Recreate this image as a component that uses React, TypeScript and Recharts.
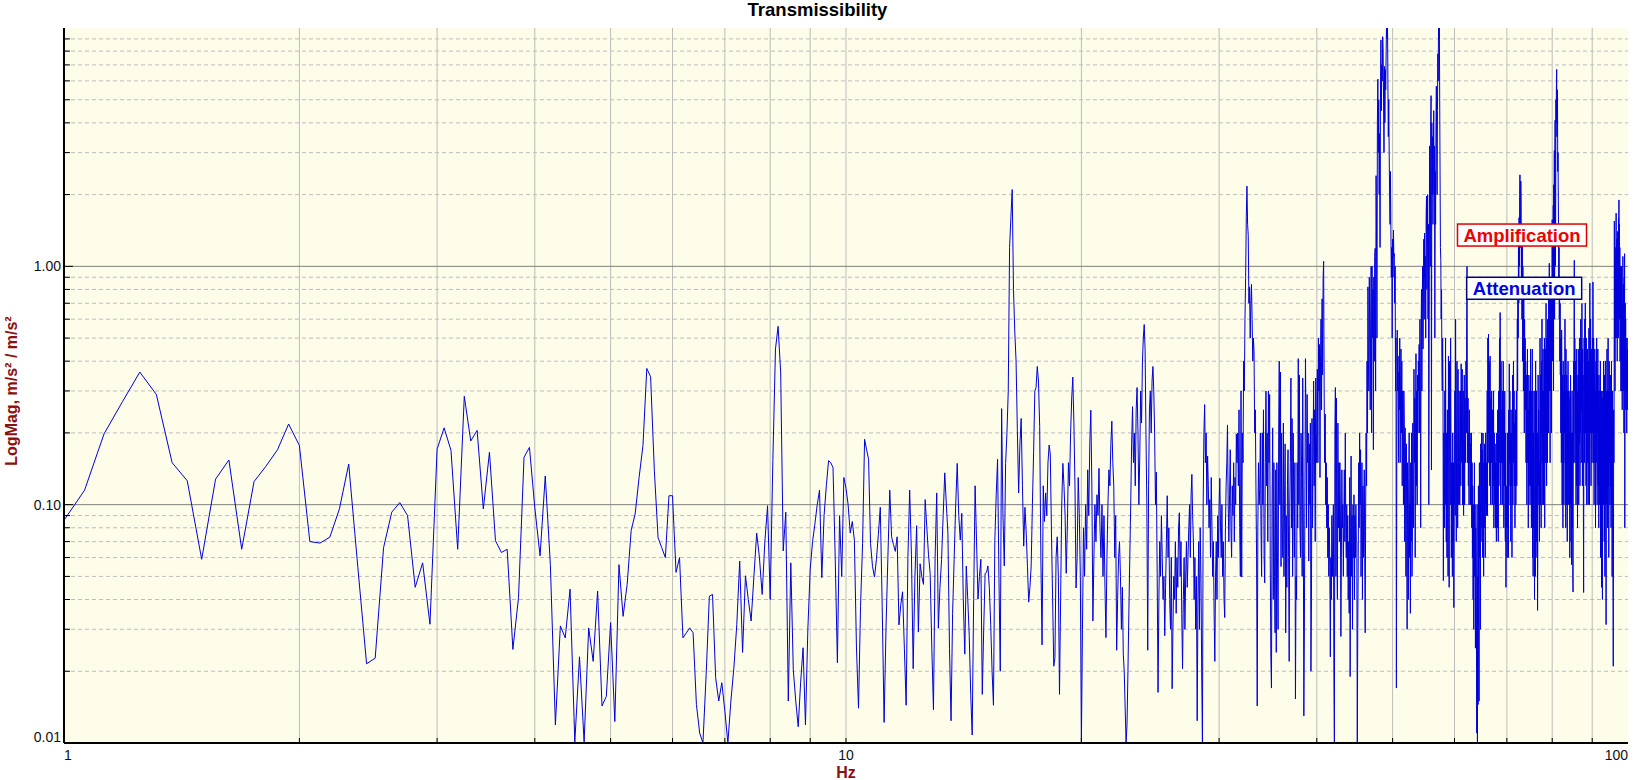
import React from 'react';
import { LineChart, Line, XAxis, YAxis, ReferenceLine, ReferenceArea, ReferenceDot } from 'recharts';

// ---- data: transmissibility magnitude, one bin every 0.0625 Hz starting at 1 Hz ----
const START_HZ = 1;
const BIN_HZ = 0.0625;

const MAG_01_09 = [
  .086,.115,.198,.27,.36,.29,.15,.126,.059,.128,.154,.065,.125,.145,.17,.218,
  .177,.07,.069,.073,.096,.148,.055,.0215,.0227,.066,.093,.102,.09,.045,.057,.0315,
  .171,.21,.169,.065,.285,.185,.205,.096,.166,.0706,.063,.065,.0247,.0407,.158,.174,
  .097,.061,.132,.056,.0119,.031,.0276,.0442,.0101,.023,.0101,.0304,.022,.0434,.0143,.0157,
  .032,.0123,.056,.034,.0463,.078,.0914,.13,.177,.373,.344,.139,.0728,.066,.06,.109,
  .109,.052,.06,.0276,.029,.0304,.029,.0145,.011,.01,.0194,.0413,.042,.0188,.015,.0179,
  .0136,.01,.015,.0206,.0314,.058,.024,.0503,.04,.0325,.05,.076,.06,.042,.07,.099,
  .04,.153,.45,.56,.36,.064,.093,.015,.057,.0203,.015,.0117,.018,.0251,.0119,.03,
  .0536,.07,.083,.1,.115,.0494,.09,.12,.153,.15,.143,.06,.0217,.09,.05,.13,
];

const MAG_10_19 = [
  .117,.1,.076,.085,.071,.0253,.014,.0374,.0686,.188,.17,.155,.0686,.055,.0497,.059,
  .075,.0975,.0374,.0122,.0304,.06,.115,.0733,.068,.0637,.0733,.0313,.038,.0431,.025,.0144,
  .06,.115,.0616,.0205,.05,.0816,.0292,.0565,.05,.0463,.105,.08,.0616,.0515,.025,.0138,
  .06,.112,.0303,.045,.059,.09,.136,.1,.076,.025,.0124,.035,.059,.1,.149,.09,
  .071,.092,.04,.0236,.0553,.04,.0282,.016,.0108,.04,.12,.07,.0402,.05,.059,.016,
  .03,.0515,.052,.0553,.045,.0313,.02,.0144,.071,.11,.155,.05,.02,.253,.09,.0553,
  .149,.2,.3,1.2,1.6,2.1,.8,.53,.4,.205,.112,.18,.23,.12,.067,.0975,
  .076,.055,.039,.045,.0553,.1,.166,.3,.31,.38,.33,.213,.06,.0258,.12,.085,
  .112,.09,.15,.178,.163,.076,.04,.021,.0228,.06,.0733,.05,.016,.04,.1,.149,
  .12,.09,.0515,.08,.15,.12,.2,.28,.343,.22,.12,.0447,.06,.13,.092,.05,
];

const MAG_20_29 = [
  .01,.03,.08,.05,.1,.065,.14,.09,.18,.249,.12,.0325,.06,.1,.07,.11,
  .09,.142,.08,.06,.1,.05,.09,.045,.0277,.06,.1,.14,.12,.18,.224,.15,
  .12,.06,.09,.0245,.04,.06,.07,.05,.03,.045,.0236,.02,.014,.01,.012,.02,
  .0355,.06,.1,.18,.258,.15,.2,.12,.25,.31,.2,.1,.16,.3,.22,.4,
  .5,.57,.45,.2,.1,.0245,.12,.25,.3,.2,.33,.38,.3,.2,.1,.137,
  .05,.0163,.04,.07,.05,.09,.06,.04,.05,.0282,.045,.07,.109,.06,.08,.04,
  .03,.06,.0169,.03,.05,.04,.07,.035,.06,.045,.08,.0925,.05,.07,.035,.0205,
  .04,.06,.03,.05,.07,.045,.06,.08,.1,.06,.11,.134,.09,.07,.04,.06,
  .03,.05,.0124,.04,.07,.03,.08,.05,.02,.01,.1,.2,.263,.15,.2,.1,
  .16,.12,.08,.105,.06,.13,.08,.05,.07,.035,.022,.05,.07,.04,.09,.06,
];

const MAG_30_39 = [
  .1,.129,.08,.06,.1,.05,.07,.04,.0336,.08,.12,.15,.216,.1,.07,.11,
  .17,.08,.06,.12,.09,.15,.07,.13,.1,.198,.15,.2,.12,.25,.08,.05,
  .3,.0497,.2,.15,.4,.3,.6,.9,1.6,2.17,1.5,1.35,.7,.82,.5,.7,
  .84,.6,.4,.5,.44,.2,.25,.12,.06,.0143,.08,.15,.1,.117,.2,.08,
  .05,.2,.1,.25,.06,.047,.15,.3,.12,.2,.07,.3,.15,.29,.06,.023,
  .017,.1,.21,.04,.15,.05,.029,.14,.024,.15,.06,.03,.2,.4,.1,.36,
  .055,.2,.08,.06,.22,.05,.1,.18,.029,.09,.045,.12,.17,.06,.022,.1,
  .15,.34,.08,.23,.05,.2,.1,.06,.15,.0153,.05,.04,.15,.08,.41,.1,
  .35,.08,.06,.2,.13,.05,.34,.1,.013,.03,.12,.41,.2,.08,.29,.15,
  .2,.058,.18,.1,.22,.02,.04,.23,.08,.15,.33,.12,.25,.07,.34,.15,
];

const MAG_40_49 = [
  .2,.37,.15,.5,.3,.47,.13,.4,.6,.25,.73,.35,.9,1.05,.3,.15,
  .24,.1,.15,.08,.13,.06,.1,.05,.08,.055,.023,.06,.04,.09,.05,.07,
  .1,.02,.01,.2,.31,.05,.28,.06,.04,.22,.08,.15,.07,.15,.1,.028,
  .06,.14,.08,.1,.05,.09,.14,.07,.2,.08,.06,.1,.05,.09,.04,.07,
  .035,.13,.019,.08,.16,.05,.09,.03,.1,.06,.11,.04,.09,.06,.1,.07,
  .07,.01,.03,.06,.15,.08,.2,.1,.17,.05,.08,.15,.04,.12,.06,.1,
  .14,.06,.029,.1,.2,.12,.4,.2,.82,.4,.3,.9,.5,.25,.6,1.0,
  .2,1.0,.5,.8,.17,.9,.4,1.1,1.19,.3,2.4,1.5,.5,4.0,6.1,3.0,
  5.0,2.0,3.6,1.2,5.5,8.9,4.5,7.0,6.0,9.2,8.0,5.0,3.0,6.9,4.0,6.7,
  5.5,8.0,11,9.0,11,6.0,3.5,5.0,3.0,2.0,1.5,2.5,1.43,.9,1.2,.5,
];

const MAG_50_59 = [
  1.3,.9,1.42,1.1,1.13,.7,1.0,.3,.5,.017,.2,.54,.3,.42,.15,.36,
  .25,.5,.15,.3,.45,.2,.4,.12,.3,.25,.1,.3,.22,.07,.21,.15,
  .05,.18,.1,.03,.15,.08,.04,.13,.2,.06,.1,.035,.15,.07,.2,.05,
  .07,.22,.1,.08,.37,.15,.28,.06,.2,.43,.12,.3,.1,.35,.2,.4,
  .3,.47,.2,.6,.35,.08,.5,.8,.3,.7,1.0,.45,.82,1.3,.6,1.38,
  .9,1.1,.5,1.6,1.97,.8,1.2,2.0,.6,1.5,.1,.5,3.2,2.0,1.0,4.0,
  5.2,.14,4.0,2.0,3.5,1.5,2.8,4.5,2.0,3.2,.5,2.5,1.5,4.0,5.7,3.0,
  2.0,4.5,7.8,6.0,11,9.0,11,5.0,2.5,1.2,1.06,.6,.8,.4,.3,.5,
  .3,.048,.2,.15,.08,.3,.1,.5,.12,.07,.2,.06,.25,.1,.05,.42,
  .15,.045,.4,.2,.1,.5,.2,.06,.15,.1,.05,.2,.07,.15,.037,.1,
];

const MAG_60_69 = [
  .1,.3,.09,.6,.25,.07,.2,.4,.15,.08,.37,.2,.1,.3,.15,.1,
  .15,.3,.12,.39,.2,.15,.37,.1,.25,.3,.09,.2,.35,.1,.28,.2,
  .15,.4,.2,.6,1.0,.3,.15,.28,.12,.2,.1,.25,.15,.2,.1,.18,
  .1,.2,.08,.15,.06,.12,.04,.1,.03,.07,.15,.05,.1,.025,.08,.06,
  .03,.011,.1,.01,.05,.0145,.12,.04,.015,.15,.06,.1,.03,.18,.07,.12,
  .2,.08,.17,.06,.2,.1,.05,.15,.08,.18,.12,.06,.2,.1,.15,.09,
  .15,.3,.09,.5,.2,.52,.15,.4,.3,.12,.42,.2,.1,.28,.15,.3,
  .2,.1,.25,.12,.15,.3,.08,.2,.12,.1,.18,.08,.15,.1,.07,.2,
  .12,.08,.25,.15,.07,.3,.12,.2,.5,.15,.64,.3,.1,.4,.2,.15,
  .25,.1,.3,.15,.4,.2,.08,.25,.12,.3,.1,.07,.2,.045,.12,.08,
];

const MAG_70_79 = [
  .1,.06,.2,.08,.15,.06,.25,.12,.39,.15,.3,.1,.2,.07,.25,.12,
  .2,.06,.15,.35,.1,.25,.4,.15,.3,.12,.22,.08,.18,.25,.1,.15,
  .3,.12,.28,.6,.3,.8,.5,1.3,.7,1.6,1.0,2.0,2.42,1.67,1.2,2.28,
  1.8,.8,1.2,.6,1.4,.4,1.0,.7,.3,.9,.5,.2,.6,.3,.5,.25,
  .4,.15,.35,.2,.1,.3,.45,.15,.25,.08,.2,.35,.12,.18,.3,.1,
  .15,.45,.12,.2,.08,.3,.1,.45,.06,.15,.05,.2,.08,.3,.1,.04,
  .1,.3,.05,.4,.15,.07,.3,.12,.06,.2,.036,.08,.35,.12,.25,.1,
  .15,.07,.25,.5,.1,.35,.2,.08,.4,.2,.6,.15,.3,.1,.45,.2,
  .1,.3,.15,.5,.08,.25,.15,.45,.2,.7,.3,.12,.5,.25,.15,.6,
  .3,.5,.2,.8,.4,1.03,.3,.6,.15,.5,.8,.3,.6,.2,.9,.5,
];

const MAG_80_89 = [
  1.57,.4,1.2,.5,1.8,.3,2.2,1.3,3.06,.6,2.5,4.1,1.0,1.5,5.0,4.0,
  6.0,6.7,3.5,4.1,5.5,2.5,3.0,2.09,1.5,.9,1.2,.6,.9,.4,.7,.35,
  .5,.2,.4,.15,.54,.3,.1,.35,.2,.08,.4,.15,.3,.1,.25,.35,
  .2,.6,.15,.3,.08,.45,.2,.1,.35,.25,.07,.3,.15,.4,.1,.3,
  .15,.3,.1,.2,.06,.28,.1,.35,.15,.07,.2,.056,.15,.3,.08,.2,
  .05,.043,.2,.4,.15,.6,1.06,.3,.5,.15,.4,.2,.3,.1,.45,.25,
  .12,.35,.2,.08,.3,.15,.45,.2,.1,.35,.18,.5,.25,.12,.4,.2,
  .6,.3,.15,.5,.25,.7,.3,.12,.45,.2,.35,.1,.0428,.2,.5,.3,
  .15,.6,.3,.7,.2,.4,.12,.5,.25,.1,.35,.2,.45,.15,.3,.1,
  .4,.2,.55,.25,.1,.3,.85,.4,.2,.6,.3,.12,.45,.2,.35,.15,
];

const MAG_90_100 = [
  .3,.5,.2,.86,.4,.15,.5,.25,.1,.35,.2,.45,.15,.3,.08,.25,
  .4,.15,.3,.5,.2,.1,.35,.2,.45,.12,.3,.2,.08,.35,.15,.25,
  .1,.3,.15,.4,.06,.25,.12,.3,.045,.2,.1,.28,.04,.15,.3,.1,
  .2,.4,.1,.3,.07,.35,.15,.05,.25,.4,.1,.2,.0314,.15,.3,.1,
  .45,.15,.3,.08,.2,.5,.12,.3,.06,.25,.4,.15,.3,.1,.2,.35,
  .12,.3,.08,.25,.4,.1,.2,.05,.15,.3,.1,.04,.021,.06,.25,.15,
  .3,1.55,.4,.8,.3,1.2,.5,1.0,.6,1.67,.7,1.3,.5,1.1,.4,.9,
  1.4,.6,1.0,.5,1.6,1.2,1.9,.8,1.5,.6,1.2,.4,.9,.5,1.0,.3,
  .8,.4,1.0,.3,.6,.25,.7,.35,1.1,.5,.84,.3,.6,.2,.9,.4,
  1.13,.08,.5,.7,.3,.6,.25,.5,.3,.4,.2,.35,.5,.3,.45,.25,
  .3,
];

const MAGNITUDE = [
  ...MAG_01_09, ...MAG_10_19, ...MAG_20_29, ...MAG_30_39, ...MAG_40_49,
  ...MAG_50_59, ...MAG_60_69, ...MAG_70_79, ...MAG_80_89, ...MAG_90_100,
];
const FREQS = MAGNITUDE.map((_, i) => START_HZ + i * BIN_HZ);
const DATA = FREQS.map((f, i) => ({ f, mag: MAGNITUDE[i] }));

// ---- axes ----
const X_TICKS = [1, 2, 3, 4, 5, 6, 7, 8, 9, 10, 20, 30, 40, 50, 60, 70, 80, 90, 100];
const X_TICK_LABELS: Record<string, string> = { '1': '1', '10': '10', '100': '100' };
const X_GRID = [2, 3, 4, 5, 6, 7, 8, 9, 10, 20, 30, 40, 50, 60, 70, 80, 90];

const Y_TICKS = [
  0.01, 0.02, 0.03, 0.04, 0.05, 0.06, 0.07, 0.08, 0.09,
  0.1, 0.2, 0.3, 0.4, 0.5, 0.6, 0.7, 0.8, 0.9,
  1, 2, 3, 4, 5, 6, 7, 8, 9,
];
const Y_TICK_LABELS: Record<string, string> = { '0.01': '0.01', '0.1': '0.10', '1': '1.00' };
const Y_GRID_MINOR = [
  0.02, 0.03, 0.04, 0.05, 0.06, 0.07, 0.08, 0.09,
  0.2, 0.3, 0.4, 0.5, 0.6, 0.7, 0.8, 0.9,
  2, 3, 4, 5, 6, 7, 8, 9,
];
const Y_GRID_MAJOR = [0.1, 1];

const NOTES = [
  { f: 73.19, v: 1.353, text: 'Amplification', color: '#ee0000', border: '#e00000', w: 129 },
  { f: 73.66, v: 0.809, text: 'Attenuation', color: '#0000e6', border: '#000080', w: 115 },
];

const FONT = 'Arial, "Liberation Sans", sans-serif';

const XTick = (props: any) => {
  const { x, y, payload } = props;
  const v = payload.value;
  const label = X_TICK_LABELS[String(v)];
  const anchor = v === 1 ? 'start' : v === 100 ? 'end' : 'middle';
  return (
    <g>
      {v !== 1 && v !== 100 && (
        <line x1={x} x2={x} y1={y} y2={y - 5} stroke="#000" strokeWidth={1} />
      )}
      {label && (
        <text x={x} y={y + 17} textAnchor={anchor} fontSize={14} fill="#111" fontFamily={FONT}>
          {label}
        </text>
      )}
    </g>
  );
};

const YTick = (props: any) => {
  const { x, y, payload } = props;
  const v = payload.value;
  const label = Y_TICK_LABELS[String(v)];
  const major = v === 0.1 || v === 1;
  const len = major ? 9 : 6;
  return (
    <g>
      {v !== 0.01 && <line x1={x} x2={x + len} y1={y} y2={y} stroke="#000" strokeWidth={1} />}
      {label && (
        <text x={x - 3} y={v === 0.01 ? y - 1 : y + 5} textAnchor="end" fontSize={14} fill="#111" fontFamily={FONT}>
          {label}
        </text>
      )}
    </g>
  );
};

const noteShape = (note: any) => (props: any) => {
  const { cx, cy } = props;
  if (cx == null || cy == null) return <g />;
  return (
    <g>
      <rect x={cx - note.w / 2} y={cy - 11} width={note.w} height={22} fill="#ffffff" stroke={note.border} strokeWidth={1.5} />
      <text x={cx} y={cy + 6.5} textAnchor="middle" fontSize={18.5} fontWeight="bold" fill={note.color} fontFamily={FONT}>
        {note.text}
      </text>
    </g>
  );
};

export default function App() {
  return (
    <div style={{ position: 'absolute', left: 0, top: 0, width: 1635, height: 780, background: '#ffffff' }}>
      <LineChart
        width={1635}
        height={780}
        data={DATA}
        margin={{ top: 28, right: 7, bottom: 7, left: 8 }}
      >
        <XAxis
          dataKey="f"
          type="number"
          scale="log"
          domain={[1, 100]}
          allowDataOverflow
          ticks={X_TICKS}
          interval={0}
          tickSize={0}
          tickMargin={0}
          tick={XTick}
          height={30}
          axisLine={{ stroke: '#000', strokeWidth: 2 }}
          tickLine={false}
        />
        <YAxis
          type="number"
          scale="log"
          domain={[0.01, 10]}
          allowDataOverflow
          ticks={Y_TICKS}
          interval={0}
          tickSize={0}
          tickMargin={0}
          tick={YTick}
          width={56}
          axisLine={{ stroke: '#000', strokeWidth: 2 }}
          tickLine={false}
        />
        <ReferenceArea x1={1} x2={100} y1={0.01} y2={10} fill="#fdfde9" fillOpacity={1} stroke="none" zIndex={-200} />
        {X_GRID.map((g) => (
          <ReferenceLine key={'x' + g} x={g} stroke="#bdbdbd" strokeWidth={1} zIndex={-150} />
        ))}
        {Y_GRID_MINOR.map((g) => (
          <ReferenceLine key={'ym' + g} y={g} stroke="#bdbdbd" strokeWidth={1} strokeDasharray="4 3" zIndex={-150} />
        ))}
        {Y_GRID_MAJOR.map((g) => (
          <ReferenceLine key={'yM' + g} y={g} stroke="#7f7f7f" strokeWidth={1} zIndex={-150} />
        ))}
        <Line
          type="linear"
          dataKey="mag"
          stroke="#0000dd"
          strokeWidth={1}
          dot={false}
          activeDot={false}
          isAnimationActive={false}
        />
        {NOTES.map((n) => (
          <ReferenceDot key={n.text} x={n.f} y={n.v} r={0} shape={noteShape(n)} zIndex={3000} ifOverflow="visible" />
        ))}
      </LineChart>
      <svg width={1635} height={780} style={{ position: 'absolute', left: 0, top: 0, pointerEvents: 'none' }}>
        <text x={817.5} y={16} textAnchor="middle" fontSize={18.5} fontWeight="bold" fill="#000" fontFamily={FONT}>
          Transmissibility
        </text>
        <text x={846} y={778} textAnchor="middle" fontSize={16} fontWeight="bold" fill="#8b1010" fontFamily={FONT}>
          Hz
        </text>
        <text
          transform="translate(17,391) rotate(-90)"
          textAnchor="middle"
          fontSize={16}
          fontWeight="bold"
          fill="#8b1010"
          fontFamily={FONT}
        >
          LogMag, m/s² / m/s²
        </text>
      </svg>
    </div>
  );
}
